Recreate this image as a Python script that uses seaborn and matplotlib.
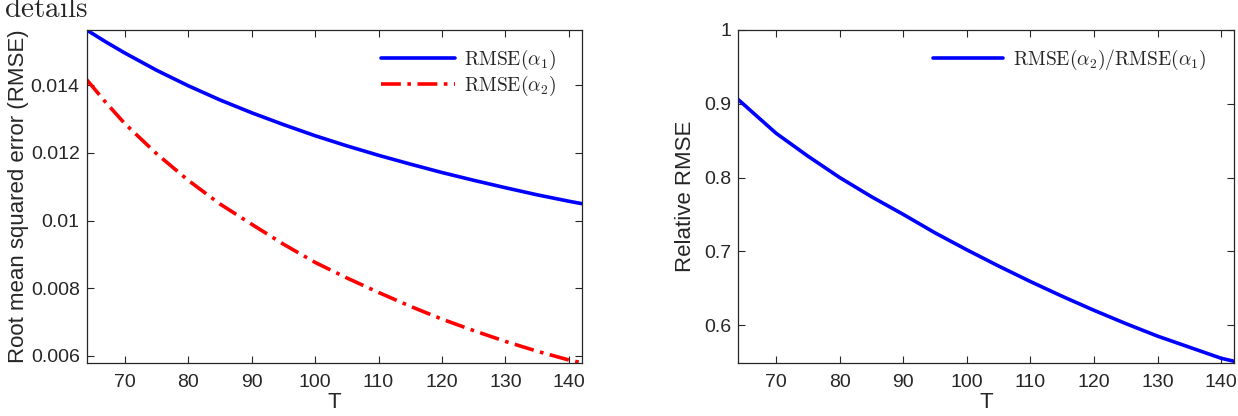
import numpy as np
import pandas as pd
import seaborn as sns
import matplotlib.pyplot as plt

# values
T = [64, 67, 70, 75, 80, 85, 90, 95, 100, 105, 110, 115, 120, 125, 130, 135, 140, 142]
rmse_a1 = [0.01564, 0.01529, 0.01496, 0.01445, 0.01399, 0.01357, 0.01319, 0.01284, 0.01251,
           0.01221, 0.01193, 0.01167, 0.01142, 0.01119, 0.01097, 0.01076, 0.01057, 0.01050]
rmse_a2 = [0.01417, 0.01350, 0.01287, 0.01198, 0.01119, 0.01049, 0.00989, 0.00930, 0.00876,
           0.00830, 0.00787, 0.00746, 0.00708, 0.00674, 0.00642, 0.00613, 0.00587, 0.00579]
ratio = [0.906, 0.883, 0.860, 0.829, 0.800, 0.774, 0.750, 0.725, 0.702,
         0.680, 0.659, 0.639, 0.620, 0.602, 0.585, 0.570, 0.555, 0.551]

xticks = [70, 80, 90, 100, 110, 120, 130, 140]
yticks_left = [0.006, 0.008, 0.01, 0.012, 0.014]
ytick_labels_left = ['0.006', '0.008', '0.01', '0.012', '0.014']
yticks_right = [0.6, 0.7, 0.8, 0.9, 1.0]
ytick_labels_right = ['0.6', '0.7', '0.8', '0.9', '1']

df = pd.DataFrame({'T': T, 'r1': rmse_a1, 'r2': rmse_a2, 'ratio': ratio})

sns.set_style('ticks')
plt.rcParams['font.family'] = ['Liberation Sans', 'DejaVu Sans']
plt.rcParams['mathtext.fontset'] = 'cm'
plt.rcParams['axes.edgecolor'] = '#262626'
plt.rcParams['xtick.color'] = '#262626'
plt.rcParams['ytick.color'] = '#262626'

fig = plt.figure(figsize=(12.38, 4.16), dpi=100)
ax1 = fig.add_axes([0.0700, 0.1281, 0.3998, 0.7998])
ax2 = fig.add_axes([0.5961, 0.1281, 0.4006, 0.7998])

# left panel
dashdot = (0, (5.5, 1.8, 1, 1.8))
sns.lineplot(data=df, x='T', y='r1', ax=ax1, color='#0000ff', lw=2.6,
             label=r'$\mathrm{RMSE}(\alpha_1)$')
sns.lineplot(data=df, x='T', y='r2', ax=ax1, color='#ff0000', lw=2.6,
             label=r'$\mathrm{RMSE}(\alpha_2)$')
ax1.lines[1].set_linestyle(dashdot)
ax1.set_xlim(64, 142)
ax1.set_ylim(min(rmse_a2), max(rmse_a1))
ax1.set_yticks(yticks_left)
ax1.set_yticklabels(ytick_labels_left)
ax1.set_ylabel('Root mean squared error (RMSE)', fontsize=16, labelpad=1)
leg1 = ax1.legend(loc='upper right', bbox_to_anchor=(0.984, 1.0), frameon=False,
                  fontsize=14, handlelength=3.8, borderaxespad=0.5,
                  labelspacing=0.1, handletextpad=0.5)
leg1.get_lines()[1].set_linestyle(dashdot)

# right panel
sns.lineplot(data=df, x='T', y='ratio', ax=ax2, color='#0000ff', lw=2.6,
             label=r'$\mathrm{RMSE}(\alpha_2)/\mathrm{RMSE}(\alpha_1)$')
ax2.axhline(1, color='k', ls=(0, (6, 6)), lw=1.2)
ax2.set_xlim(64, 142)
ax2.set_ylim(min(ratio) - 0.002, 1.0)
ax2.set_yticks(yticks_right)
ax2.set_yticklabels(ytick_labels_right)
ax2.set_ylabel('Relative RMSE', fontsize=16, labelpad=6)
ax2.legend(loc='upper right', bbox_to_anchor=(0.98, 1.0), frameon=False,
           fontsize=14, handlelength=3.6, borderaxespad=0.5, handletextpad=0.5)

for ax in (ax1, ax2):
    ax.set_xticks(xticks)
    ax.set_xlabel('T', fontsize=16, labelpad=1)
    ax.tick_params(direction='in', top=True, right=True, labelsize=14,
                   length=5, width=0.8, pad=5)
    ax.tick_params(axis='x', pad=8)
    for s in ax.spines.values():
        s.set_visible(True)
        s.set_linewidth(0.9)

fig.text(0.003, 0.958, r'$\mathrm{details}$', fontsize=21, va='baseline', ha='left')

fig.savefig('out.png', dpi=100)
